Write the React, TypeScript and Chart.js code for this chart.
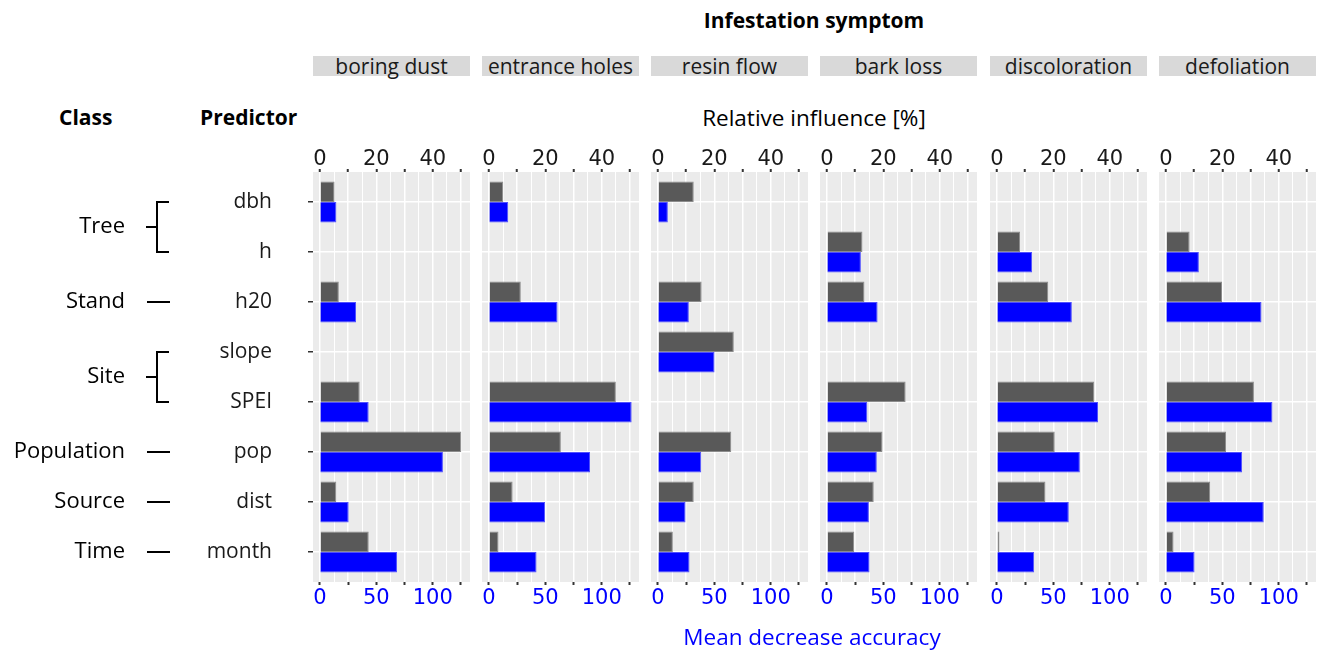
import React, { useEffect, useRef } from 'react';
import { Chart, registerables } from 'chart.js';

Chart.register(...registerables);

// ---------- data ----------
const SYMPTOMS = ['boring dust', 'entrance holes', 'resin flow', 'bark loss', 'discoloration', 'defoliation'];
const PREDICTORS = ['dbh', 'h', 'h20', 'slope', 'SPEI', 'pop', 'dist', 'month'];

const CLASS_NAMES = ['Tree', 'Stand', 'Site', 'Population', 'Source', 'Time'];
const CLASS_FIRST = [0, 2, 3, 5, 6, 7];
const CLASS_LAST = [1, 2, 4, 5, 6, 7];

// Relative influence [%] (grey bars, top axis), in PREDICTORS order
const RI_BORING_DUST = [5.2, null, 6.7, null, 14.1, 50.1, 5.8, 17.3];
const RI_ENTRANCE_HOLES = [5.1, null, 11.3, null, 45.0, 25.5, 8.4, 3.4];
const RI_RESIN_FLOW = [12.7, null, 15.5, 26.9, null, 26.0, 12.7, 5.3];
const RI_BARK_LOSS = [null, 12.6, 13.3, null, 27.9, 19.7, 16.6, 9.7];
const RI_DISCOLORATION = [null, 8.2, 18.2, null, 34.5, 20.5, 17.2, 0.9];
const RI_DEFOLIATION = [null, 8.4, 19.9, null, 31.2, 21.3, 15.7, 2.7];

// Mean decrease accuracy (blue bars, bottom axis), in PREDICTORS order
const MDA_BORING_DUST = [14.6, null, 32.0, null, 43.2, 109.0, 25.5, 68.3];
const MDA_ENTRANCE_HOLES = [17.1, null, 60.8, null, 126.5, 89.6, 49.8, 42.2];
const MDA_RESIN_FLOW = [8.8, null, 27.4, 50.2, null, 38.4, 24.5, 28.0];
const MDA_BARK_LOSS = [null, 30.1, 44.9, null, 35.8, 44.2, 37.2, 37.8];
const MDA_DISCOLORATION = [null, 31.2, 66.4, null, 89.6, 73.5, 63.7, 33.0];
const MDA_DEFOLIATION = [null, 29.2, 84.7, null, 94.4, 67.5, 86.7, 25.4];

const RI_SERIES = [RI_BORING_DUST, RI_ENTRANCE_HOLES, RI_RESIN_FLOW, RI_BARK_LOSS, RI_DISCOLORATION, RI_DEFOLIATION];
const MDA_SERIES = [MDA_BORING_DUST, MDA_ENTRANCE_HOLES, MDA_RESIN_FLOW, MDA_BARK_LOSS, MDA_DISCOLORATION, MDA_DEFOLIATION];

// tick values
const RI_GRID_TICKS = [0, 5, 10, 15, 20, 25, 30, 35, 40, 45, 50];
const RI_MARK_TICKS = [0, 10, 20, 30, 40, 50];
const RI_TICK_LABELS = [0, 20, 40];
const MDA_TICKS = [0, 25, 50, 75, 100, 125];
const MDA_TICK_LABELS = [0, 50, 100];

// ---------- layout ----------
const PANEL_LEFT = [313, 482, 651, 820, 990, 1159];
const PANEL_W = 157;
const PAD = 20;
const CANVAS_TOP = 130;
const CANVAS_H = 500;
const TOP_AXIS_H = 42;
const BOTTOM_AXIS_H = 48;
const RI_MIN = -2.45;
const RI_MAX = 53.2;
const MDA_FACTOR = 2.5;

const TEXT_FONT = '"Open Sans", "Noto Sans", sans-serif';
const NUM_FONT = '"DejaVu Sans", Verdana, sans-serif';

const panelBg = {
  id: 'panelBg',
  beforeDraw(chart: any) {
    const { ctx, chartArea: a } = chart;
    ctx.save();
    ctx.fillStyle = '#ebebeb';
    ctx.fillRect(a.left, a.top, a.right - a.left, a.bottom - a.top);
    ctx.restore();
  },
};

const classPlugin = {
  id: 'classLabels',
  afterDraw(chart: any) {
    const y = chart.scales.y;
    const ctx = chart.ctx;
    ctx.save();
    ctx.font = `22px ${TEXT_FONT}`;
    ctx.fillStyle = '#000';
    ctx.textAlign = 'right';
    ctx.textBaseline = 'middle';
    ctx.strokeStyle = '#000';
    ctx.lineWidth = 2;
    CLASS_NAMES.forEach((name, i) => {
      const y0 = y.getPixelForValue(CLASS_FIRST[i] + 1);
      const y1 = y.getPixelForValue(CLASS_LAST[i] + 1);
      const ym = (y0 + y1) / 2;
      ctx.fillText(name, 125, ym);
      ctx.beginPath();
      if (CLASS_FIRST[i] === CLASS_LAST[i]) {
        ctx.moveTo(147, ym);
        ctx.lineTo(170, ym);
      } else {
        ctx.moveTo(146, ym);
        ctx.lineTo(157, ym);
        ctx.moveTo(169, y0);
        ctx.lineTo(157, y0);
        ctx.lineTo(157, y1);
        ctx.lineTo(169, y1);
      }
      ctx.stroke();
    });
    ctx.restore();
  },
};

function toPoints(values: (number | null)[]) {
  const out: { x: number; y: number }[] = [];
  values.forEach((v, i) => {
    if (v !== null) out.push({ x: v, y: i + 1 });
  });
  return out;
}

function Panel({ index }: { index: number }) {
  const ref = useRef<HTMLCanvasElement>(null);
  const first = index === 0;
  const left = first ? 0 : PANEL_LEFT[index] - PAD;
  const width = first ? PANEL_LEFT[0] + PANEL_W + PAD : PANEL_W + 2 * PAD;

  useEffect(() => {
    if (!ref.current) return;
    const chart = new Chart(ref.current, {
      type: 'bar',
      data: {
        datasets: [
          {
            label: 'Relative influence [%]',
            data: toPoints(RI_SERIES[index]) as any,
            xAxisID: 'xTop',
            yAxisID: 'y',
            backgroundColor: '#595959',
            borderColor: '#8c8c8c',
            borderWidth: 1,
            categoryPercentage: 0.82,
            barPercentage: 1,
          },
          {
            label: 'Mean decrease accuracy',
            data: toPoints(MDA_SERIES[index]) as any,
            xAxisID: 'xBot',
            yAxisID: 'y',
            backgroundColor: '#0000ff',
            borderColor: '#5050ff',
            borderWidth: 1,
            categoryPercentage: 0.82,
            barPercentage: 1,
          },
        ],
      },
      options: {
        indexAxis: 'y',
        animation: false,
        responsive: false,
        maintainAspectRatio: false,
        devicePixelRatio: 1,
        layout: { padding: { left: first ? 0 : PAD, right: PAD, top: 0, bottom: 0 } },
        plugins: { legend: { display: false }, tooltip: { enabled: false } },
        scales: {
          y: {
            type: 'linear',
            min: 0.4,
            max: 8.6,
            reverse: true,
            offset: false,
            afterBuildTicks: (s: any) => {
              s.ticks = PREDICTORS.map((_, i) => ({ value: i + 1 }));
            },
            afterFit: (s: any) => {
              s.width = first ? PANEL_LEFT[0] : 0;
              s.paddingTop = 0;
              s.paddingBottom = 0;
            },
            ticks: {
              display: first,
              autoSkip: false,
              padding: 36,
              color: '#1a1a1a',
              font: { family: TEXT_FONT, size: 21 },
              callback: (v: any) => PREDICTORS[Number(v) - 1],
            },
            grid: {
              color: '#ffffff',
              lineWidth: 1.5,
              drawTicks: first,
              tickLength: 5,
              tickWidth: 1.5,
              tickColor: '#333333',
              offset: false,
            },
            border: { display: false },
          },
          xTop: {
            type: 'linear',
            position: 'top',
            min: RI_MIN,
            max: RI_MAX,
            offset: false,
            afterBuildTicks: (s: any) => {
              s.ticks = RI_GRID_TICKS.map((v) => ({ value: v }));
            },
            afterFit: (s: any) => {
              s.height = TOP_AXIS_H;
            },
            ticks: {
              autoSkip: false,
              maxRotation: 0,
              padding: -1,
              color: '#1a1a1a',
              font: { family: NUM_FONT, size: 21, lineHeight: 1 },
              callback: (v: any) => (RI_TICK_LABELS.includes(Number(v)) ? String(v) : ''),
            },
            grid: {
              color: '#ffffff',
              lineWidth: (c: any) => (c.tick && RI_MARK_TICKS.includes(c.tick.value) ? 1.5 : 1),
              drawTicks: true,
              tickLength: 3,
              tickWidth: 2,
              tickColor: (c: any) => (c.tick && RI_MARK_TICKS.includes(c.tick.value) ? '#333333' : 'rgba(0,0,0,0)'),
              offset: false,
            },
            border: { display: false },
          },
          xBot: {
            type: 'linear',
            position: 'bottom',
            min: RI_MIN * MDA_FACTOR,
            max: RI_MAX * MDA_FACTOR,
            offset: false,
            afterBuildTicks: (s: any) => {
              s.ticks = MDA_TICKS.map((v) => ({ value: v }));
            },
            afterFit: (s: any) => {
              s.height = BOTTOM_AXIS_H;
            },
            ticks: {
              autoSkip: false,
              maxRotation: 0,
              padding: 3,
              color: '#0000ff',
              font: { family: NUM_FONT, size: 21, lineHeight: 1 },
              callback: (v: any) => (MDA_TICK_LABELS.includes(Number(v)) ? String(v) : ''),
            },
            grid: {
              drawOnChartArea: false,
              drawTicks: true,
              tickLength: 3,
              tickWidth: 2,
              tickColor: '#333333',
              offset: false,
            },
            border: { display: false },
          },
        },
      } as any,
      plugins: first ? [panelBg, classPlugin] : [panelBg],
    });
    return () => chart.destroy();
  }, [index]);

  return (
    <canvas
      ref={ref}
      width={width}
      height={CANVAS_H}
      style={{ position: 'absolute', left, top: CANVAS_TOP, width, height: CANVAS_H }}
    />
  );
}

function Text({ x, y, w, align, size, bold, color, children }: any) {
  const lh = Math.round(size + 6);
  const leftPos = align === 'center' ? x - w / 2 : align === 'right' ? x - w : x;
  return (
    <div
      style={{
        position: 'absolute',
        left: leftPos,
        top: y - lh / 2,
        width: w,
        height: lh,
        lineHeight: `${lh}px`,
        fontSize: size,
        fontFamily: TEXT_FONT,
        fontWeight: bold ? 700 : 400,
        color: color || '#000',
        textAlign: align,
        whiteSpace: 'nowrap',
      }}
    >
      {children}
    </div>
  );
}

export default function App() {
  return (
    <div
      style={{
        position: 'fixed',
        left: 0,
        top: 0,
        width: 1318,
        height: 651,
        background: '#ffffff',
        overflow: 'hidden',
      }}
    >
      <Text x={814} y={20} w={400} align="center" size={21} bold>
        Infestation symptom
      </Text>
      {SYMPTOMS.map((s, i) => (
        <div
          key={s}
          style={{
            position: 'absolute',
            left: PANEL_LEFT[i],
            top: 56,
            width: PANEL_W,
            height: 20,
            background: '#d9d9d9',
            color: '#1a1a1a',
            fontFamily: TEXT_FONT,
            fontSize: 21,
            lineHeight: '20px',
            textAlign: 'center',
            whiteSpace: 'nowrap',
          }}
        >
          {s}
        </div>
      ))}
      <Text x={59} y={117} w={120} align="left" size={21} bold>
        Class
      </Text>
      <Text x={200} y={117} w={140} align="left" size={21} bold>
        Predictor
      </Text>
      <Text x={814} y={117} w={400} align="center" size={22.5}>
        Relative influence [%]
      </Text>
      {SYMPTOMS.map((s, i) => (
        <Panel key={s} index={i} />
      ))}
      <Text x={812} y={636} w={400} align="center" size={22.5} color="#0000ff">
        Mean decrease accuracy
      </Text>
    </div>
  );
}
